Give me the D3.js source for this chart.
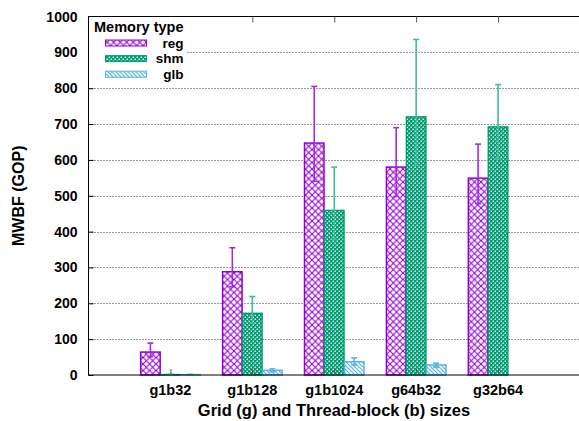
<!DOCTYPE html>
<html>
<head>
<meta charset="utf-8">
<script src="https://cdn.jsdelivr.net/npm/d3@7"></script>
<style>
  body { margin: 0; background: #fff; }
  text { font-family: "Liberation Sans", Arial, sans-serif; font-weight: bold; }
</style>
</head>
<body>
<div id="chart"></div>
<script>
// data
const categories = ['g1b32', 'g1b128', 'g1b1024', 'g64b32', 'g32b64'];
const seriesNames = ['reg', 'shm', 'glb'];
const regValues = [64, 288, 647, 580, 549];
const regLow = [51, 246, 540, 498, 478];
const regHigh = [89, 355, 805, 690, 644];
const shmValues = [1, 172, 459, 720, 692];
const shmLow = [0, 145, 377, 584, 602];
const shmHigh = [2, 219, 580, 936, 810];
const glbValues = [1, 13, 37, 28, 0];
const glbLow = [0, 9, 28, 22, 0];
const glbHigh = [2, 17, 48, 33, 0];
const yTicks = [0, 100, 200, 300, 400, 500, 600, 700, 800, 900, 1000];

const W = 579, H = 421;
const margin = { top: 16.5, right: -1, bottom: 46, left: 88.5 };

const colors = { reg: '#9400d3', shm: '#009e73', glb: '#56b4e9' };
const errColors = { reg: '#a22be0', shm: '#3fbf98', glb: '#56b4e9' };

const series = [
  { key: 'reg', values: regValues, low: regLow, high: regHigh },
  { key: 'shm', values: shmValues, low: shmLow, high: shmHigh },
  { key: 'glb', values: glbValues, low: glbLow, high: glbHigh },
];

const svg = d3.select('#chart').append('svg')
  .attr('width', W).attr('height', H);

const defs = svg.append('defs');

// reg: diamond crosshatch
const pReg = defs.append('pattern').attr('id', 'pat-reg')
  .attr('patternUnits', 'userSpaceOnUse').attr('width', 6.5).attr('height', 6.5);
pReg.append('rect').attr('width', 6.5).attr('height', 6.5).attr('fill', '#fff');
pReg.append('path').attr('d', 'M0,0L6.5,6.5M6.5,0L0,6.5')
  .attr('stroke', colors.reg).attr('stroke-width', 1.1);

// shm: fine checker
const pShm = defs.append('pattern').attr('id', 'pat-shm')
  .attr('patternUnits', 'userSpaceOnUse').attr('width', 4).attr('height', 4);
pShm.append('rect').attr('width', 4).attr('height', 4).attr('fill', colors.shm);
pShm.append('rect').attr('x', 0.6).attr('y', 0.6).attr('width', 1.4).attr('height', 1.4).attr('fill', '#fff');
pShm.append('rect').attr('x', 2.6).attr('y', 2.6).attr('width', 1.4).attr('height', 1.4).attr('fill', '#fff');

// glb: diagonal stripes
const pGlb = defs.append('pattern').attr('id', 'pat-glb')
  .attr('patternUnits', 'userSpaceOnUse').attr('width', 4).attr('height', 4);
pGlb.append('rect').attr('width', 4).attr('height', 4).attr('fill', '#fff');
pGlb.append('path').attr('d', 'M-1,-1L5,5M-1,3L1,5M3,-1L5,1')
  .attr('stroke', colors.glb).attr('stroke-width', 1.2);

const x0 = margin.left, x1 = W - margin.right;
const yTop = margin.top, yBot = H - margin.bottom;

const x = d3.scaleLinear().domain([-1, 5]).range([x0, x1]);
const y = d3.scaleLinear().domain([0, 1000]).range([yBot, yTop]);

const barW = 19.5;
const offsets = { reg: -20, shm: 0, glb: 20 };

// grid lines
svg.append('g').selectAll('line').data(yTicks.slice(1, -1)).join('line')
  .attr('x1', x0).attr('x2', x1)
  .attr('y1', d => Math.round(y(d)) + 0.5).attr('y2', d => Math.round(y(d)) + 0.5)
  .attr('stroke', '#333').attr('stroke-width', 1)
  .attr('stroke-dasharray', '1,2');

// bars
series.forEach(s => {
  svg.append('g').selectAll('rect').data(s.values).join('rect')
    .filter(d => d > 0)
    .attr('x', (d, i) => x(i) + offsets[s.key] - barW / 2)
    .attr('y', d => y(d))
    .attr('width', barW)
    .attr('height', d => yBot - y(d))
    .attr('fill', 'url(#pat-' + s.key + ')')
    .attr('stroke', colors[s.key])
    .attr('stroke-width', 1.5);
});

// error bars
series.forEach(s => {
  const g = svg.append('g').attr('stroke', errColors[s.key]).attr('stroke-width', 1.6);
  s.values.forEach((v, i) => {
    if (v <= 0) return;
    const cx = x(i) + offsets[s.key];
    g.append('line').attr('x1', cx).attr('x2', cx)
      .attr('y1', y(s.low[i])).attr('y2', y(s.high[i]));
    g.append('line').attr('x1', cx - 3).attr('x2', cx + 3)
      .attr('y1', y(s.high[i])).attr('y2', y(s.high[i]));
    g.append('line').attr('x1', cx - 3).attr('x2', cx + 3)
      .attr('y1', y(s.low[i])).attr('y2', y(s.low[i]));
  });
});

// frame
svg.append('rect')
  .attr('x', x0).attr('y', yTop).attr('width', x1 - x0).attr('height', yBot - yTop)
  .attr('fill', 'none').attr('stroke', '#000').attr('stroke-width', 1);

// y axis ticks + labels
const yAxis = svg.append('g').attr('transform', 'translate(' + x0 + ',0)')
  .call(d3.axisRight(y).tickValues(yTicks).tickSize(5).tickFormat(''));
yAxis.select('.domain').remove();
yAxis.selectAll('line').attr('stroke', '#000');
svg.append('g').selectAll('text').data(yTicks).join('text')
  .attr('x', 77.5).attr('y', d => y(d) + 5)
  .attr('text-anchor', 'end').attr('font-size', 14)
  .text(d => d);

// x ticks (bottom and top, inward)
const xAxisB = svg.append('g').attr('transform', 'translate(0,' + yBot + ')')
  .call(d3.axisTop(x).tickValues(d3.range(categories.length)).tickSize(6).tickFormat(''));
xAxisB.select('.domain').remove();
xAxisB.selectAll('line').attr('stroke', '#555');
const xAxisT = svg.append('g').attr('transform', 'translate(0,' + yTop + ')')
  .call(d3.axisBottom(x).tickValues(d3.range(categories.length)).tickSize(6).tickFormat(''));
xAxisT.select('.domain').remove();
xAxisT.selectAll('line').attr('stroke', '#555');

svg.append('g').selectAll('text').data(categories).join('text')
  .attr('x', (d, i) => x(i)).attr('y', 395)
  .attr('text-anchor', 'middle').attr('font-size', 14.5)
  .text(d => d);

// axis titles
svg.append('text')
  .attr('x', 334).attr('y', 416)
  .attr('text-anchor', 'middle').attr('font-size', 16.5)
  .text('Grid (g) and Thread-block (b) sizes');
svg.append('text')
  .attr('transform', 'translate(24,' + (yTop + yBot) / 2 + ') rotate(-90)')
  .attr('text-anchor', 'middle').attr('font-size', 16)
  .text('MWBF (GOP)');

// legend
const legend = svg.append('g');
legend.append('rect')
  .attr('x', x0 + 0.5).attr('y', yTop + 0.5).attr('width', 97).attr('height', 66)
  .attr('fill', '#fff');
legend.append('text').attr('x', 94).attr('y', 32)
  .attr('font-size', 14.5).text('Memory type');
seriesNames.forEach((k, i) => {
  const ly = 43 + i * 15.6;
  legend.append('rect')
    .attr('x', 105.5).attr('y', ly - 3).attr('width', 41).attr('height', 6)
    .attr('fill', 'url(#pat-' + k + ')')
    .attr('stroke', colors[k]).attr('stroke-width', 1);
  legend.append('text').attr('x', 183.5).attr('y', ly + 4.5)
    .attr('text-anchor', 'end').attr('font-size', 13.5).text(k);
});
</script>
</body>
</html>
